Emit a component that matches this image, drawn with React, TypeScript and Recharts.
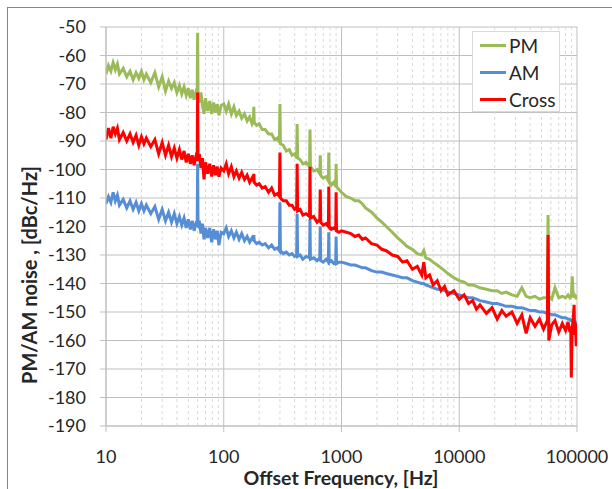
import React from 'react';
import { CartesianGrid, Line, LineChart, ReferenceLine, XAxis, YAxis } from 'recharts';

// offset frequency [Hz], one decade per block
const freqs = [
  10, 10.5, 11, 11.5, 12, 12.5, 13, 14, 15, 16,
  17, 18, 19, 20, 21, 22, 24, 26, 28, 30,
  32, 34, 36, 38, 40, 42, 44, 46, 48, 50,
  52, 54, 56, 58, 59.5, 60, 60.5, 62, 64, 66,
  68, 70, 73, 76, 79, 82, 85, 88, 91, 95,

  100, 105, 110, 116, 122, 128, 135, 142, 150, 158,
  166, 174, 178.5, 180, 181.5, 190, 200, 212, 225, 240,
  255, 270, 285, 297, 300, 303, 320, 340, 360, 380,
  400, 416, 420, 424, 445, 470, 500, 535, 540, 545,
  580, 620, 654, 660, 666, 700, 740, 774, 780, 786,
  820, 860, 893, 900, 907, 950,

  1000, 1100, 1200, 1300, 1400, 1500, 1600, 1800, 2000, 2200,
  2400, 2700, 3000, 3300, 3600, 4000, 4400, 4800, 5000, 5200,
  5600, 6000, 6500, 7000, 7500, 8000, 9000,

  10000, 11000, 12000, 13000, 14000, 15000, 17000, 19000, 21000, 23000,
  25000, 28000, 31000, 34000, 37000, 40000, 44000, 48000, 52000, 56000,
  56800, 57600, 61000, 65000, 70000, 75000, 80000, 84000, 87000, 88500,
  89500, 91000, 93000, 94500, 95500, 97000, 98500, 100000,
];

const pm = [
  -66.5, -63.5, -65.5, -62.5, -65, -63, -66.5, -64.5, -67.5, -65.5,
  -68.5, -66, -68, -65.5, -68.5, -66.5, -69.5, -66, -71, -67.5,
  -72.5, -69, -71.5, -69.5, -73, -70.5, -73.5, -71, -74, -71.5,
  -75, -72, -75.5, -73, -74, -52, -74.5, -76.5, -73, -77.5,
  -80.5, -75, -79.5, -76, -80.5, -76.5, -80, -77, -81, -77.5,

  -77, -79.5, -77, -80.5, -78, -81, -79.5, -82, -80.5, -83,
  -81.5, -84, -83, -78, -83.5, -84.5, -84, -86, -86, -87.5,
  -87.5, -89.5, -89, -90.5, -77, -91, -91.5, -93.5, -93, -95,
  -94.5, -96, -84, -96, -96.5, -98, -97.5, -99, -86, -99,
  -100.5, -100, -101.5, -95, -102, -103, -102.5, -104, -94, -104,
  -105.5, -104.5, -106, -98, -106, -107,

  -108, -109.5, -110, -111, -111, -112, -113.5, -115, -117, -118.5,
  -120, -122, -124, -125.5, -127, -128, -129.5, -130, -128.5, -131,
  -131.5, -132.5, -133.5, -134.5, -135.5, -136.5, -138,

  -139, -139.5, -140.5, -140.5, -141, -141.5, -142, -142.5, -142.5, -143.5,
  -143, -144, -144.5, -141.5, -144.5, -145, -144.5, -145.5, -145, -145,
  -116, -144.5, -145.5, -141.5, -145, -144.5, -145, -144, -145, -144.5,
  -145, -137.5, -144.5, -143.5, -145, -144, -145.5, -144,
];

const am = [
  -112, -109.5, -111.5, -108, -111, -109, -112.5, -110.5, -113.5, -111,
  -114, -111.5, -114.5, -112, -114.5, -112.5, -115.5, -113, -117.5, -114,
  -118, -115, -118.5, -115.5, -119, -116.5, -119.5, -117, -120.5, -117.5,
  -121, -118, -121.5, -119, -119.5, -98, -120, -118, -122.5, -119,
  -124.5, -120.5, -124, -120.5, -125.5, -121, -124.5, -121.5, -126.5, -122,

  -122.5, -120.5, -123.5, -121.5, -124, -122, -124.5, -122.5, -125, -123.5,
  -125.5, -124, -125, -123, -125, -126, -125.5, -126.5, -126, -127.5,
  -126.5, -128, -127.5, -128.5, -111.5, -128.5, -129.5, -129, -130, -129.5,
  -130.5, -130, -115.5, -130.5, -130, -131.5, -130.5, -131, -117.5, -131.5,
  -131, -132, -131, -120, -132, -132.5, -131.5, -132.5, -122, -132.5,
  -132, -133, -132.5, -123.5, -133, -132.5,

  -132.5, -133, -133.5, -133.5, -134, -134.5, -134.5, -135.5, -136, -136,
  -136.5, -137, -137.5, -138, -138, -139, -139.5, -140, -140, -140.5,
  -141, -141.5, -142, -142, -142.5, -143, -143.5,

  -144, -144.5, -145, -145, -145.5, -146, -146.5, -147, -147, -147.5,
  -148, -148, -148.5, -148.5, -149, -149.5, -149.5, -150, -150, -150.5,
  -150.5, -150.5, -151, -151, -151.5, -152, -152, -152.5, -152.5, -153,
  -153, -153, -153, -153.5, -153.5, -153.5, -154, -153.5,
];

const cross = [
  -89.5, -85.5, -89, -85, -87.5, -85.5, -89.5, -87, -90, -87.5,
  -90.5, -88, -91.5, -88.5, -91, -89, -92, -89.5, -94.5, -90.5,
  -95, -91.5, -95.5, -92.5, -96, -93, -96.5, -93.5, -97.5, -94.5,
  -98, -95, -98.5, -95.5, -96.5, -73, -97, -94.5, -99.5, -96,
  -103.5, -97.5, -101.5, -98, -102.5, -98.5, -102, -99, -102.5, -99.5,

  -100.5, -98, -101.5, -99, -102.5, -100.5, -103, -101, -103.5, -102,
  -104.5, -103, -104, -101.5, -104.5, -105.5, -105, -106.5, -106, -108,
  -106.5, -109, -108.5, -109.5, -94, -110, -111, -111, -112.5, -112.5,
  -114, -113.5, -98, -114.5, -114, -116, -115.5, -116.5, -99, -117,
  -116.5, -118.5, -117.5, -107, -118.5, -119.5, -119, -120, -106, -120,
  -121, -120.5, -121, -108, -121.5, -122,

  -121.5, -122, -122.5, -123.5, -123, -124.5, -124, -126, -126.5, -128,
  -128.5, -130, -130.5, -132.5, -132, -135, -134, -137, -132.5, -138,
  -137, -140.5, -139, -142.5, -141, -144, -142.5,

  -145.5, -144, -147, -146, -149, -147.5, -150.5, -148.5, -152.5, -149.5,
  -151.5, -150, -154, -151, -157.5, -152, -155, -152.5, -156, -153,
  -123, -160, -154.5, -153, -157, -154, -156.5, -153.5, -157, -155,
  -173, -156, -152, -147.5, -158, -154, -162, -158,
];

const xTicks = [10, 100, 1000, 10000, 100000];
const minorFreqs = [
  20, 30, 40, 50, 60, 70, 80, 90,
  200, 300, 400, 500, 600, 700, 800, 900,
  2000, 3000, 4000, 5000, 6000, 7000, 8000, 9000,
  20000, 30000, 40000, 50000, 60000, 70000, 80000, 90000,
];
const yTicks = [-190, -180, -170, -160, -150, -140, -130, -120, -110, -100, -90, -80, -70, -60, -50];

const series = [
  { key: 'pm', name: 'PM', color: '#9bbb59' },
  { key: 'am', name: 'AM', color: '#558ed5' },
  { key: 'cross', name: 'Cross', color: '#ff0000' },
];

const data = freqs.map((f, i) => ({ f, pm: pm[i], am: am[i], cross: cross[i] }));

const font = 'Lato, "Liberation Sans", sans-serif';
const gridColor = '#bfbfbf';

export default function App() {
  return (
    <div style={{ position: 'absolute', left: 0, top: 0, width: 612, height: 489, overflow: 'hidden', background: '#fff', fontFamily: font }}>
      <div style={{ position: 'absolute', left: 7, top: 7, width: 700, height: 600, borderLeft: '1px solid #868686', borderTop: '1px solid #868686' }} />
      <LineChart width={612} height={489} data={data} margin={{ top: 27, right: 35, bottom: 0, left: 0 }}>
        <CartesianGrid stroke={gridColor} strokeWidth={1} />
        {minorFreqs.map((f) => (
          <ReferenceLine key={f} x={f} stroke="#d9d9d9" strokeDasharray="3 3" ifOverflow="hidden" />
        ))}
        <XAxis
          dataKey="f"
          type="number"
          scale="log"
          domain={[10, 100000]}
          ticks={xTicks}
          height={63}
          stroke={gridColor}
          tickSize={6}
          tickMargin={18}
          tick={{ fill: '#262626', fontSize: 18, fontFamily: font }}
          allowDataOverflow
        />
        <YAxis
          type="number"
          domain={[-190, -50]}
          ticks={yTicks}
          width={106}
          stroke={gridColor}
          tickSize={6}
          tickMargin={14}
          tick={{ fill: '#262626', fontSize: 18, fontFamily: font }}
          allowDataOverflow
        />
        {series.map((s) => (
          <Line
            key={s.key}
            type="linear"
            dataKey={s.key}
            name={s.name}
            stroke={s.color}
            strokeWidth={3}
            dot={false}
            isAnimationActive={false}
          />
        ))}
      </LineChart>
      <div style={{ position: 'absolute', left: 120, width: 442, top: 467, textAlign: 'center', fontWeight: 700, fontSize: 19.5, color: '#262626', lineHeight: '22px' }}>
        Offset Frequency, [Hz]
      </div>
      <div
        style={{
          position: 'absolute', left: 28.5 - 150, top: 274.5 - 11, width: 300, height: 22, textAlign: 'center',
          transform: 'rotate(-90deg)', fontWeight: 700, fontSize: 20, color: '#262626', lineHeight: '22px',
        }}
      >
        PM/AM noise , [dBc/Hz]
      </div>
      <div style={{ position: 'absolute', left: 472, top: 31, width: 88, height: 81, background: '#fff', border: '1px solid #d9d9d9', boxSizing: 'border-box', fontSize: 19, color: '#262626' }}>
        {series.map((s) => (
          <div key={s.key} style={{ display: 'flex', alignItems: 'center', height: 27, paddingLeft: 7 }}>
            <span style={{ display: 'inline-block', width: 26, height: 3, background: s.color, marginRight: 3 }} />
            <span>{s.name}</span>
          </div>
        ))}
      </div>
    </div>
  );
}
